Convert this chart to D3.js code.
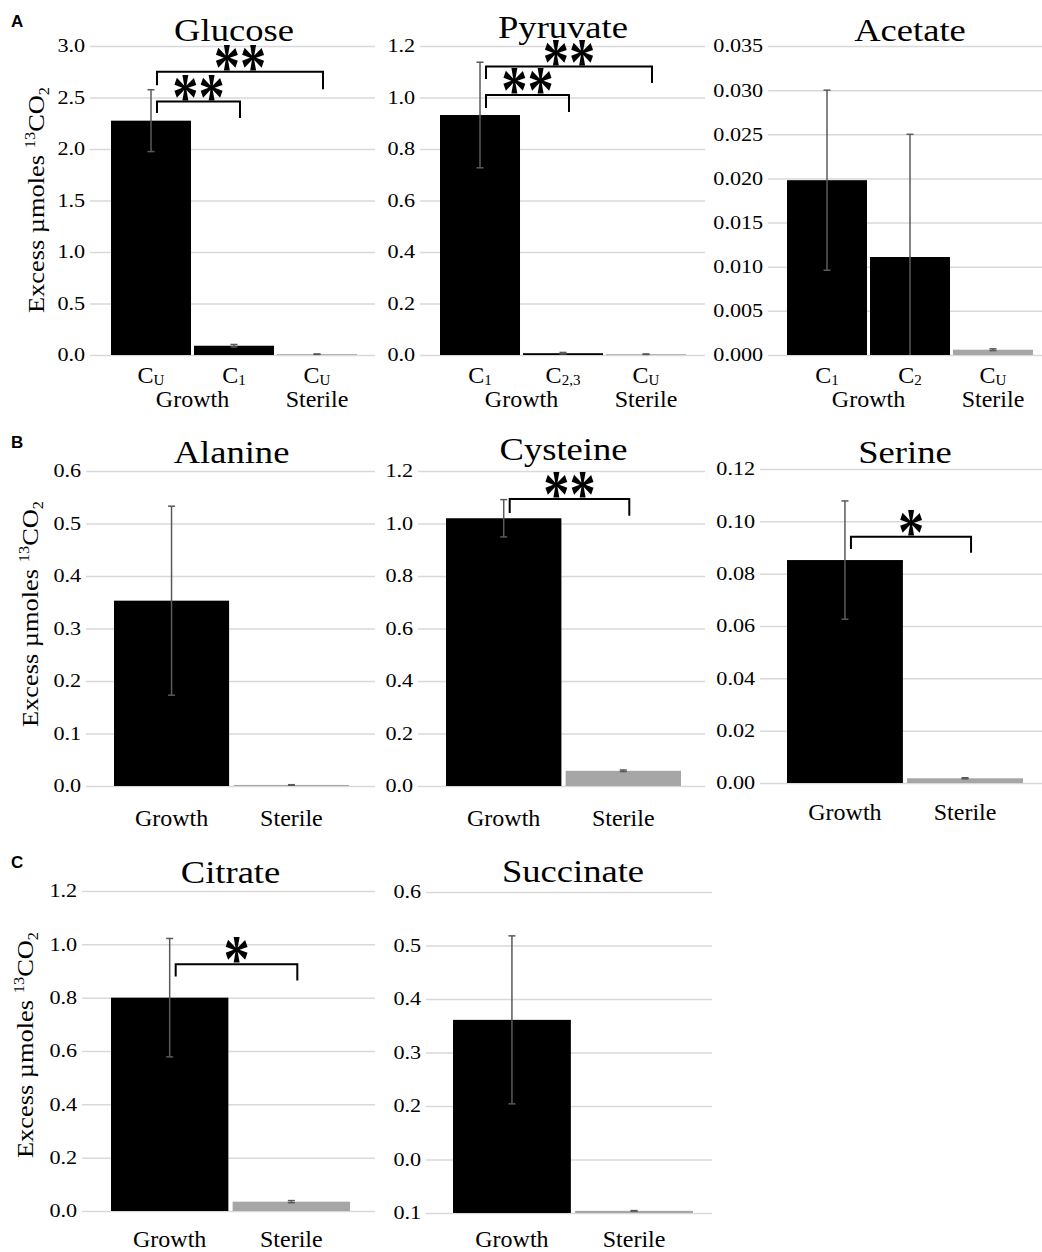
<!DOCTYPE html>
<html>
<head>
<meta charset="utf-8">
<script src="https://cdn.jsdelivr.net/npm/d3@7"></script>
<style>
body { margin: 0; background: #fff; }
</style>
</head>
<body>
<script>
const width = 1042;
const height = 1252;
const serif = "'Liberation Serif', 'Times New Roman', serif";

// ---- data: panel A ----
const glucoseLabels = [["C", "U"], ["C", "1"], ["C", "U"]];
const glucoseGroups = ["Growth", "Growth", "Sterile"];
const glucoseValues = [2.275, 0.09, 0.008];
const glucoseErrors = [0.30, 0.012, 0.002];
const glucoseTicks = [0, 0.5, 1.0, 1.5, 2.0, 2.5, 3.0];
// [from, to, bracket level, left leg end, right leg end, mark]
const glucoseSig = [[0, 1, 2.46, 2.35, 2.30, "**"], [0, 2, 2.75, 2.62, 2.58, "**"]];

const pyruvateLabels = [["C", "1"], ["C", "2,3"], ["C", "U"]];
const pyruvateGroups = ["Growth", "Growth", "Sterile"];
const pyruvateValues = [0.932, 0.007, 0.003];
const pyruvateErrors = [0.205, 0.003, 0.001];
const pyruvateTicks = [0, 0.2, 0.4, 0.6, 0.8, 1.0, 1.2];
const pyruvateSig = [[0, 1, 1.01, 0.959, 0.944, "**"], [0, 2, 1.12, 1.072, 1.056, "**"]];

const acetateLabels = [["C", "1"], ["C", "2"], ["C", "U"]];
const acetateGroups = ["Growth", "Growth", "Sterile"];
const acetateValues = [0.0198, 0.0111, 0.0006];
const acetateErrors = [0.0102, 0.0139, 0.0001];
const acetateTicks = [0, 0.005, 0.010, 0.015, 0.020, 0.025, 0.030, 0.035];

// ---- data: panel B ----
const twoGroups = ["Growth", "Sterile"];
const alanineValues = [0.353, 0.002];
const alanineErrors = [0.18, 0.0005];
const alanineTicks = [0, 0.1, 0.2, 0.3, 0.4, 0.5, 0.6];

const cysteineValues = [1.02, 0.058];
const cysteineErrors = [0.071, 0.003];
const cysteineTicks = [0, 0.2, 0.4, 0.6, 0.8, 1.0, 1.2];
const cysteineSig = [[0, 1, 1.093, 1.04, 1.03, "**"]];

const serineValues = [0.0852, 0.0018];
const serineErrors = [0.0226, 0.0002];
const serineTicks = [0, 0.02, 0.04, 0.06, 0.08, 0.10, 0.12];
const serineSig = [[0, 1, 0.0941, 0.0894, 0.088, "*"]];

// ---- data: panel C ----
const citrateValues = [0.80, 0.035];
const citrateErrors = [0.222, 0.004];
const citrateTicks = [0, 0.2, 0.4, 0.6, 0.8, 1.0, 1.2];
const citrateSig = [[0, 1, 0.925, 0.879, 0.864, "*"]];

const succinateValues = [0.361, 0.004];
const succinateErrors = [0.157, 0.0005];
const succinateTicks = [0, 0.1, 0.2, 0.3, 0.4, 0.5, 0.6];
const succinateTickLabels = ["0.1", "0.0", "0.2", "0.3", "0.4", "0.5", "0.6"];

const svg = d3.select("body")
    .append("svg")
    .attr("width", width)
    .attr("height", height);

// text that is a bit wider than the font, like the original figure
function stretched(parent, x, y, size, sx, anchor) {
    return parent.append("g")
        .attr("transform", `translate(${x},${y})`)
        .append("text")
        .attr("transform", `scale(${sx},1)`)
        .attr("font-family", serif)
        .attr("font-size", size)
        .attr("text-anchor", anchor)
        .attr("fill", "#000");
}

function panel(o) {
    const g = svg.append("g");
    const y = d3.scaleLinear().domain([0, o.max]).range(o.yr);
    const x = d3.scaleBand()
        .domain(d3.range(o.values.length))
        .range(o.xr)
        .paddingInner(o.pad);
    const bw = x.bandwidth();
    const cx = i => x(i) + bw / 2;

    // gridlines + tick labels
    const axis = d3.axisLeft(y)
        .tickValues(o.ticks)
        .tickSize(-(o.gx[1] - o.gx[0]))
        .tickPadding(4)
        .tickFormat((d, i) => o.tickLabels ? o.tickLabels[i] : d3.format(o.fmt)(d));
    const ax = g.append("g")
        .attr("transform", `translate(${o.gx[0]},0)`)
        .call(axis)
        .attr("font-family", serif)
        .attr("font-size", 18.5);
    ax.select(".domain").remove();
    ax.selectAll(".tick line").attr("stroke", "#d9d9d9").attr("stroke-width", 1.5);
    ax.selectAll(".tick text").attr("fill", "#000").attr("transform", "scale(1.2,1)");

    // bars
    g.selectAll("rect.bar")
        .data(o.values)
        .join("rect")
        .attr("class", "bar")
        .attr("x", (d, i) => x(i))
        .attr("width", bw)
        .attr("y", d => y(d))
        .attr("height", d => y(0) - y(d))
        .attr("fill", (d, i) => o.groups[i] === "Sterile" ? "#a6a6a6" : "#000");

    // error bars
    o.values.forEach(function (v, i) {
        const e = o.errors[i];
        const lo = Math.max(0, v - e), hi = v + e;
        const eb = g.append("g").attr("stroke", "#5a5a5a").attr("stroke-width", 1.5);
        eb.append("line").attr("x1", cx(i)).attr("x2", cx(i)).attr("y1", y(lo)).attr("y2", y(hi));
        eb.append("line").attr("x1", cx(i) - 3.5).attr("x2", cx(i) + 3.5).attr("y1", y(hi)).attr("y2", y(hi));
        if (v - e > 0) {
            eb.append("line").attr("x1", cx(i) - 3.5).attr("x2", cx(i) + 3.5).attr("y1", y(lo)).attr("y2", y(lo));
        }
    });

    // significance brackets
    (o.sig || []).forEach(function (s) {
        const xl = cx(s[0]) + 6, xr = cx(s[1]) + 6;
        g.append("path")
            .attr("d", `M${xl},${y(s[3])}V${y(s[2])}H${xr}V${y(s[4])}`)
            .attr("fill", "none")
            .attr("stroke", "#000")
            .attr("stroke-width", 2);
        g.append("g")
            .attr("transform", `translate(${(xl + xr) / 2},${y(s[2]) + 17})`)
            .append("text")
            .attr("transform", "scale(0.82,1.05)")
            .attr("text-anchor", "middle")
            .attr("font-family", serif)
            .attr("font-weight", "bold")
            .attr("font-size", 64)
            .text(s[5]);
    });

    // category labels with subscripts
    if (o.labels) {
        o.labels.forEach(function (l, i) {
            const t = g.append("text")
                .attr("x", cx(i))
                .attr("y", o.subY)
                .attr("text-anchor", "middle")
                .attr("font-family", serif)
                .attr("font-size", 24);
            t.append("tspan").text(l[0]);
            t.append("tspan").attr("font-size", 15).attr("dy", 2).text(l[1]);
        });
    }

    // group labels
    const groups = Array.from(new Set(o.groups));
    groups.forEach(function (grp) {
        const idx = o.groups.map((d, i) => d === grp ? i : -1).filter(i => i >= 0);
        g.append("text")
            .attr("x", d3.mean(idx, cx))
            .attr("y", o.groupY)
            .attr("text-anchor", "middle")
            .attr("font-family", serif)
            .attr("font-size", 24)
            .text(grp);
    });

    // title
    stretched(g, (o.xr[0] + o.xr[1]) / 2, o.titleY, 31, 1.18, "middle").text(o.title);

    // y axis title
    if (o.ytitle) {
        const t = g.append("g")
            .attr("transform", `translate(${o.ytitle[0]},${o.ytitle[1]}) rotate(-90)`)
            .append("text")
            .attr("transform", "scale(1.1,1)")
            .attr("font-family", serif)
            .attr("font-size", 24)
            .attr("text-anchor", "middle");
        t.append("tspan").text("Excess \u00b5moles ");
        t.append("tspan").attr("font-size", 15).attr("dy", -9).text("13");
        t.append("tspan").attr("dy", 9).text("CO");
        t.append("tspan").attr("font-size", 15).attr("dy", 5).text("2");
    }
}

// panel letters
[["A", 27], ["B", 448], ["C", 868]].forEach(function (p) {
    svg.append("text")
        .attr("x", 11)
        .attr("y", p[1])
        .attr("font-family", "'Liberation Sans', Arial, sans-serif")
        .attr("font-weight", "bold")
        .attr("font-size", 17)
        .text(p[0]);
});

const rowA = [355, 46];
panel({title: "Glucose", values: glucoseValues, errors: glucoseErrors, groups: glucoseGroups,
    labels: glucoseLabels, ticks: glucoseTicks, fmt: ".1f", max: 3.0, sig: glucoseSig,
    yr: rowA, gx: [90, 375], xr: [111, 357], pad: 0.036, titleY: 41, subY: 383, groupY: 407,
    ytitle: [44, 200]});
panel({title: "Pyruvate", values: pyruvateValues, errors: pyruvateErrors, groups: pyruvateGroups,
    labels: pyruvateLabels, ticks: pyruvateTicks, fmt: ".1f", max: 1.2, sig: pyruvateSig,
    yr: rowA, gx: [420, 705], xr: [440, 686], pad: 0.036, titleY: 38, subY: 383, groupY: 407});
panel({title: "Acetate", values: acetateValues, errors: acetateErrors, groups: acetateGroups,
    labels: acetateLabels, ticks: acetateTicks, fmt: ".3f", max: 0.035,
    yr: rowA, gx: [768, 1042], xr: [787, 1033], pad: 0.036, titleY: 41, subY: 383, groupY: 407});

panel({title: "Alanine", values: alanineValues, errors: alanineErrors, groups: twoGroups,
    ticks: alanineTicks, fmt: ".1f", max: 0.6,
    yr: [786, 471], gx: [86, 375], xr: [114, 349], pad: 0.04, titleY: 463, groupY: 826,
    ytitle: [38, 614]});
panel({title: "Cysteine", values: cysteineValues, errors: cysteineErrors, groups: twoGroups,
    ticks: cysteineTicks, fmt: ".1f", max: 1.2, sig: cysteineSig,
    yr: [786, 471], gx: [418, 705], xr: [446, 681], pad: 0.035, titleY: 460, groupY: 826});
panel({title: "Serine", values: serineValues, errors: serineErrors, groups: twoGroups,
    ticks: serineTicks, fmt: ".2f", max: 0.12, sig: serineSig,
    yr: [783, 469], gx: [760, 1042], xr: [787, 1023], pad: 0.035, titleY: 463, groupY: 820});

panel({title: "Citrate", values: citrateValues, errors: citrateErrors, groups: twoGroups,
    ticks: citrateTicks, fmt: ".1f", max: 1.2, sig: citrateSig,
    yr: [1211, 891], gx: [82, 375], xr: [111, 350], pad: 0.035, titleY: 883, groupY: 1247,
    ytitle: [33, 1045]});
panel({title: "Succinate", values: succinateValues, errors: succinateErrors, groups: twoGroups,
    ticks: succinateTicks, tickLabels: succinateTickLabels, max: 0.6,
    yr: [1213, 892], gx: [426, 712], xr: [453, 693], pad: 0.035, titleY: 882, groupY: 1247});
</script>
</body>
</html>
